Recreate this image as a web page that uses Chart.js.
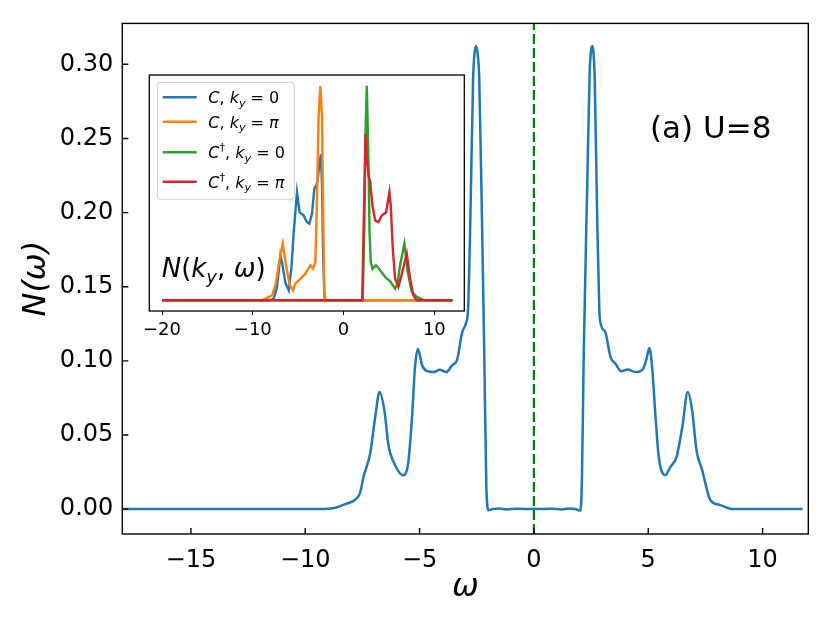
<!DOCTYPE html>
<html>
<head>
<meta charset="utf-8">
<script src="https://cdn.jsdelivr.net/npm/chart.js@4.4.0/dist/chart.umd.min.js"></script>
<style>
  body { margin: 0; background: #fff; }
  #wrap { position: relative; width: 830px; height: 623px; }
  #mainChart { position: absolute; left: 0; top: 0; }
  #insetChart { position: absolute; left: 130px; top: 60px; }
</style>
</head>
<body>
<div id="wrap">
  <canvas id="mainChart" width="830" height="623"></canvas>
  <canvas id="insetChart" width="350" height="285"></canvas>
</div>
<script>
// main panel: N(omega) for U=8
var omega = [-18, -12, -9.3, -8.8, -8.25, -7.85, -7.6, -7.45, -7.16, -6.94,
  -6.75, -6.54, -6.35, -6.14, -5.74, -5.52, -5.33, -5.2, -5.07, -4.89,
  -4.67, -4.38, -4.12, -3.83, -3.58, -3.36, -3.14, -2.98, -2.88, -2.78,
  -2.66, -2.6, -2.53, -2.46, -2.39, -2.27, -2.17, -2.08, -1.98, -1.8,
  -1.5, -1.2, -0.8, -0.4, 0, 0.4, 0.8, 1.2, 1.5, 1.8,
  2.03, 2.1, 2.18, 2.33, 2.44, 2.5, 2.55, 2.6, 2.66, 2.77,
  2.86, 2.94, 3.13, 3.35, 3.57, 3.82, 4.11, 4.44, 4.78, 4.92,
  5.05, 5.17, 5.32, 5.46, 5.75, 5.97, 6.24, 6.49, 6.73, 6.92,
  7.11, 7.36, 7.72, 8.16, 8.67, 11.75];
var dos = [0, 0, 0, 0.0005, 0.0034, 0.006, 0.011, 0.0218, 0.0375, 0.062,
  0.079, 0.0666, 0.042, 0.0319, 0.0229, 0.0285, 0.062, 0.0958, 0.108, 0.097,
  0.093, 0.0924, 0.094, 0.0924, 0.097, 0.1007, 0.119, 0.125, 0.135, 0.1945,
  0.29, 0.307, 0.3123, 0.307, 0.29, 0.1945, 0.1048, 0.015, -0.0007, 0,
  0.0004, -0.0002, 0.0003, 0, 0.0002, 0, 0.0003, -0.0002, 0.0004, 0,
  -0.001, 0.02, 0.105, 0.217, 0.295, 0.309, 0.3123, 0.309, 0.29, 0.1945,
  0.135, 0.124, 0.119, 0.1025, 0.098, 0.093, 0.0942, 0.0924, 0.0947, 0.101,
  0.1086, 0.0958, 0.062, 0.0352, 0.0229, 0.0285, 0.0352, 0.0554, 0.079, 0.0666,
  0.0397, 0.0262, 0.006, 0.0027, 0, 0];

// inset: N(k_y, omega), arbitrary units
var omegaC0 = [-20, -8.5, -7.9, -7.69, -7.33, -6.96, -6.75, -6.4, -6.04, -5.75,
  -5.49, -5.13, -4.84, -4.4, -4.03, -3.77, -3.48, -3.22, -3.0, -2.85,
  -2.7, -2.5, -2.38, -2.27, -2.12, -2.0, 12];
var valC0 = [0, 0, 0.003, 0.008, 0.062, 0.209, 0.17, 0.08, 0.0465, 0.15,
  0.318, 0.504, 0.41, 0.395, 0.364, 0.357, 0.403, 0.52, 0.535, 0.56,
  0.62, 0.68, 0.55, 0.25, 0.02, 0, 0];
var omegaCpi = [-20, -9.0, -8.6, -7.88, -7.5, -7.03, -6.7, -6.34, -5.93, -5.57,
  -5.31, -4.76, -4.21, -3.66, -3.37, -3.11, -2.93, -2.75, -2.56, -2.38,
  -2.27, -2.12, -1.98, 12];
var valCpi = [0, 0, 0.008, 0.023, 0.07, 0.194, 0.264, 0.163, 0.07, 0.0465,
  0.078, 0.1, 0.124, 0.163, 0.147, 0.178, 0.473, 0.86, 1.0, 0.86,
  0.47, 0.039, 0, 0];
var omegaCd0 = [-20, 2.1, 2.27, 2.42, 2.56, 2.75, 2.86, 3.0, 3.19, 3.59,
  4.03, 4.58, 5.13, 5.68, 5.95, 6.23, 6.7, 7.07, 7.51, 8.06,
  8.6, 9.0, 12];
var valCd0 = [0, 0, 0.3, 0.78, 1.0, 0.63, 0.318, 0.178, 0.147, 0.163,
  0.14, 0.109, 0.088, 0.054, 0.08, 0.163, 0.264, 0.132, 0.039, 0.0155,
  0.005, 0, 0];
var omegaCdpi = [-20, 2.05, 2.27, 2.42, 2.56, 2.75, 2.93, 3.19, 3.48, 3.85,
  4.21, 4.69, 5.05, 5.2, 5.42, 5.68, 6.04, 6.52, 6.96, 7.33,
  7.69, 8.06, 12];
var valCdpi = [0, 0, 0.47, 0.775, 0.66, 0.58, 0.55, 0.44, 0.372, 0.364,
  0.395, 0.41, 0.504, 0.44, 0.24, 0.1, 0.062, 0.14, 0.217, 0.1,
  0.023, 0, 0];

var xTicksMain = [-15, -10, -5, 0, 5, 10];
var yTicksMain = [0, 0.05, 0.1, 0.15, 0.2, 0.25, 0.3];
var xTicksInset = [-20, -10, 0, 10];
var fermiLevel = 0;
var yMin = -0.0168, yMax = 0.3276;

// legend / label text pieces: [text, italic?, 'sub'|'sup'|'']
var seriesLabels = [
  [['C', 1], [', ', 0], ['k', 1], ['y', 1, 'sub'], [' = 0', 0]],
  [['C', 1], [', ', 0], ['k', 1], ['y', 1, 'sub'], [' = ', 0], ['\u03c0', 1]],
  [['C', 1], ['\u2020', 0, 'sup'], [', ', 0], ['k', 1], ['y', 1, 'sub'], [' = 0', 0]],
  [['C', 1], ['\u2020', 0, 'sup'], [', ', 0], ['k', 1], ['y', 1, 'sub'], [' = ', 0], ['\u03c0', 1]]
];
var insetTitle = [['N', 1], ['(', 0], ['k', 1], ['y', 1, 'sub'], [', ', 0], ['\u03c9', 1], [')', 0]];
var panelLabel = '(a) U=8';
var colors = ['#1f77b4', '#ff7f0e', '#2ca02c', '#d62728'];

var FONT = '"DejaVu Sans", sans-serif';

function pts(xs, ys) {
  return xs.map(function (x, i) { return { x: x, y: ys[i] }; });
}
function minus(v) {
  return v < 0 ? '\u2212' + Math.abs(v) : '' + v;
}
function drawMath(ctx, parts, x, y, size) {
  parts.forEach(function (p) {
    var fs = p[2] ? size * 0.7 : size;
    ctx.font = (p[1] ? 'italic ' : '') + fs + 'px ' + FONT;
    var dy = p[2] === 'sub' ? size * 0.22 : (p[2] === 'sup' ? -size * 0.42 : 0);
    ctx.fillText(p[0], x, y + dy);
    x += ctx.measureText(p[0]).width;
  });
  return x;
}

var mainFrame = {
  id: 'mainFrame',
  afterDraw: function (chart) {
    var ctx = chart.ctx, a = chart.chartArea;
    var sx = chart.scales.x, sy = chart.scales.y;
    ctx.save();
    ctx.strokeStyle = '#000';
    ctx.lineWidth = 1.4;
    ctx.strokeRect(a.left, a.top, a.right - a.left, a.bottom - a.top);
    ctx.beginPath();
    sx.ticks.forEach(function (t) {
      var px = sx.getPixelForValue(t.value);
      ctx.moveTo(px, a.bottom);
      ctx.lineTo(px, a.bottom - 6);
    });
    sy.ticks.forEach(function (t) {
      var py = sy.getPixelForValue(t.value);
      ctx.moveTo(a.left, py);
      ctx.lineTo(a.left + 6, py);
    });
    ctx.stroke();
    ctx.fillStyle = '#000';
    ctx.textBaseline = 'alphabetic';
    ctx.font = '31px ' + FONT;
    ctx.fillText(panelLabel, 650, 138);
    ctx.restore();
  }
};

new Chart(document.getElementById('mainChart'), {
  type: 'line',
  data: {
    datasets: [{
      data: pts(omega, dos),
      borderColor: colors[0],
      borderWidth: 2.5,
      pointRadius: 0,
      cubicInterpolationMode: 'monotone',
      fill: false
    }, {
      data: pts([fermiLevel, fermiLevel], [yMin, yMax]),
      borderColor: '#008000',
      borderWidth: 2.2,
      borderDash: [10, 4],
      pointRadius: 0,
      tension: 0,
      fill: false
    }]
  },
  options: {
    responsive: false,
    animation: false,
    layout: { padding: { left: 0, right: 21.7, top: 22.3, bottom: 0 } },
    plugins: { legend: { display: false }, tooltip: { enabled: false } },
    scales: {
      x: {
        type: 'linear',
        min: -18,
        max: 12,
        afterBuildTicks: function (s) { s.ticks = xTicksMain.map(function (v) { return { value: v }; }); },
        afterFit: function (s) { s.height = 89; },
        grid: { display: false, drawTicks: false },
        border: { display: false },
        ticks: {
          color: '#000',
          padding: 12,
          maxRotation: 0,
          autoSkip: false,
          font: { family: FONT, size: 24 },
          callback: function (v) { return minus(v); }
        },
        title: {
          display: true,
          text: '\u03c9',
          color: '#000',
          font: { family: FONT, size: 32, style: 'italic' },
          padding: { top: 0, bottom: 16 }
        }
      },
      y: {
        type: 'linear',
        min: yMin,
        max: yMax,
        afterBuildTicks: function (s) { s.ticks = yTicksMain.map(function (v) { return { value: v }; }); },
        afterFit: function (s) { s.width = 122.3; },
        grid: { display: false, drawTicks: false },
        border: { display: false },
        ticks: {
          color: '#000',
          padding: 9,
          autoSkip: false,
          font: { family: FONT, size: 24 },
          callback: function (v) { return v.toFixed(2); }
        },
        title: {
          display: true,
          text: 'N(\u03c9)',
          color: '#000',
          font: { family: FONT, size: 32, style: 'italic' },
          padding: { top: 17, bottom: 0 }
        }
      }
    }
  },
  plugins: [mainFrame]
});

var insetFrame = {
  id: 'insetFrame',
  beforeDatasetsDraw: function (chart) {
    var ctx = chart.ctx, a = chart.chartArea;
    ctx.save();
    ctx.fillStyle = '#fff';
    ctx.fillRect(a.left, a.top, a.right - a.left, a.bottom - a.top);
    ctx.restore();
  },
  afterDraw: function (chart) {
    var ctx = chart.ctx, a = chart.chartArea;
    ctx.save();
    ctx.strokeStyle = '#000';
    ctx.lineWidth = 1.3;
    ctx.strokeRect(a.left, a.top, a.right - a.left, a.bottom - a.top);

    // legend box
    var bx = a.left + 8, by = a.top + 7.3, bw = 137, bh = 117;
    ctx.fillStyle = 'rgba(255,255,255,0.8)';
    ctx.strokeStyle = '#cccccc';
    ctx.lineWidth = 1;
    ctx.beginPath();
    ctx.roundRect(bx, by, bw, bh, 3);
    ctx.fill();
    ctx.stroke();
    var rows = [15, 39.4, 70, 99.4];
    ctx.lineWidth = 2.5;
    rows.forEach(function (ry, i) {
      ctx.strokeStyle = colors[i];
      ctx.beginPath();
      ctx.moveTo(bx + 5.4, by + ry);
      ctx.lineTo(bx + 39.4, by + ry);
      ctx.stroke();
      ctx.fillStyle = '#000';
      ctx.textBaseline = 'alphabetic';
      drawMath(ctx, seriesLabels[i], bx + 51, by + ry + 5.8, 16);
    });

    ctx.fillStyle = '#000';
    drawMath(ctx, insetTitle, a.left + 12.4, a.top + 202, 26);
    ctx.restore();
  }
};

var insetSets = [
  [omegaC0, valC0], [omegaCpi, valCpi], [omegaCd0, valCd0], [omegaCdpi, valCdpi]
];

new Chart(document.getElementById('insetChart'), {
  type: 'line',
  data: {
    datasets: insetSets.map(function (s, i) {
      return {
        data: pts(s[0], s[1]),
        borderColor: colors[i],
        borderWidth: 2.4,
        pointRadius: 0,
        tension: 0,
        fill: false,
        order: 4 - i
      };
    })
  },
  options: {
    responsive: false,
    animation: false,
    layout: { padding: { left: 19.3, right: 15.7, top: 15, bottom: 0 } },
    plugins: { legend: { display: false }, tooltip: { enabled: false } },
    scales: {
      x: {
        type: 'linear',
        min: -21.4,
        max: 13.3,
        afterBuildTicks: function (s) { s.ticks = xTicksInset.map(function (v) { return { value: v }; }); },
        afterFit: function (s) { s.height = 34; },
        grid: { display: true, drawOnChartArea: false, drawTicks: true, tickLength: 4, color: '#000', lineWidth: 1 },
        border: { display: false },
        ticks: {
          color: '#000',
          padding: 5,
          maxRotation: 0,
          autoSkip: false,
          font: { family: FONT, size: 18 },
          callback: function (v) { return minus(v); }
        }
      },
      y: { display: false, min: -0.05, max: 1.05 }
    }
  },
  plugins: [insetFrame]
});
</script>
</body>
</html>
